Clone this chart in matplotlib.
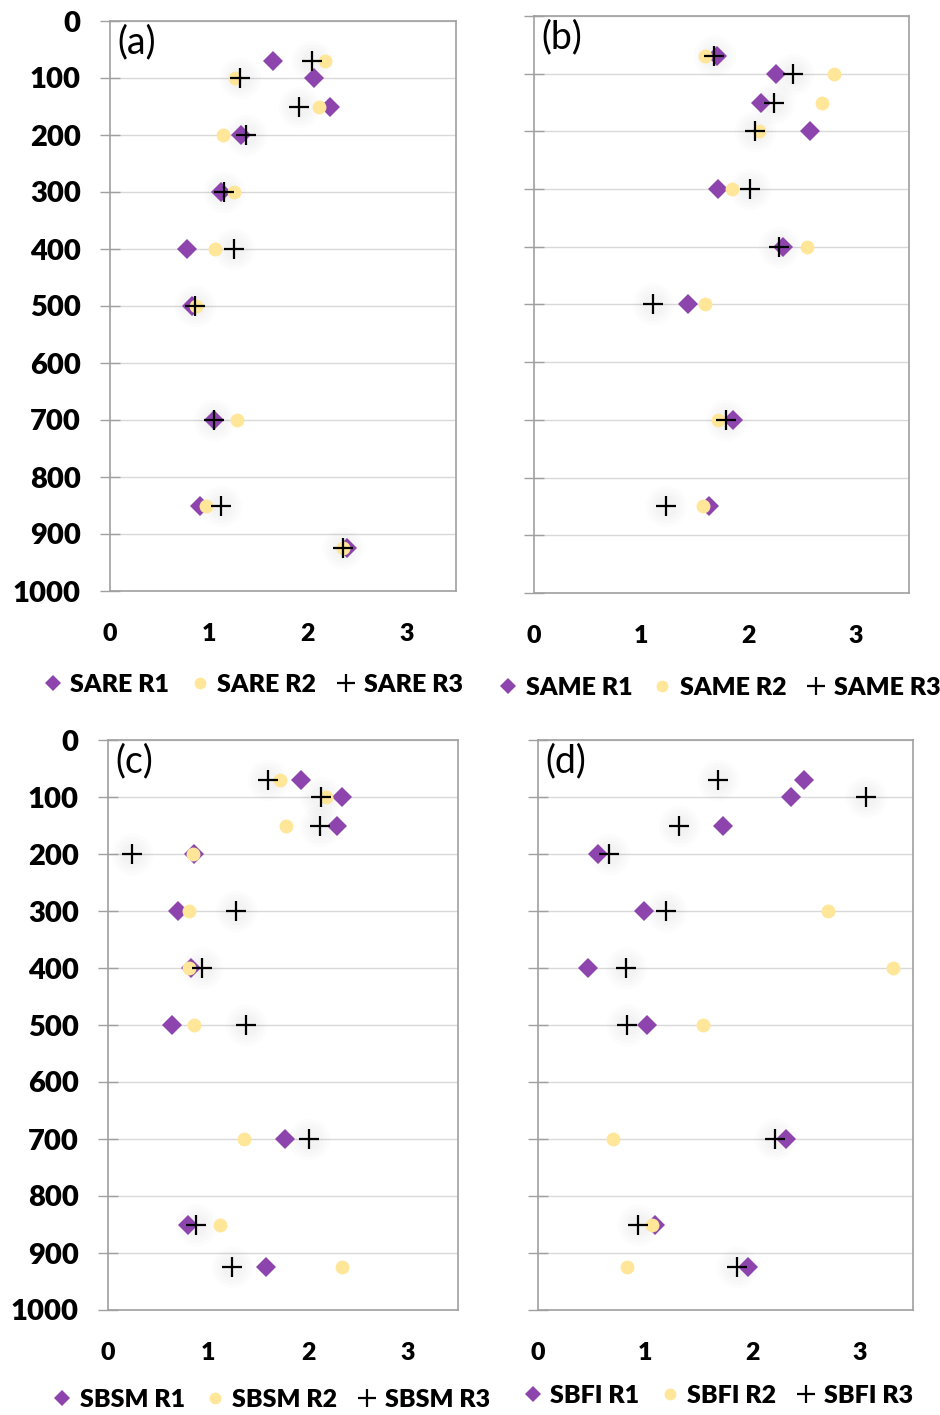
import numpy as np
import matplotlib
matplotlib.use('Agg')
import matplotlib.pyplot as plt

# depth (cm) and values per panel
depth = [70, 100, 150, 200, 300, 400, 500, 700, 850, 925]
depth_b = [70, 100, 150, 200, 300, 400, 500, 700, 850]

sare_r1 = [1.65, 2.06, 2.23, 1.33, 1.12, 0.78, 0.83, 1.05, 0.91, 2.40]
sare_r2 = [2.17, 1.26, 2.11, 1.14, 1.25, 1.06, 0.87, 1.28, 0.97, 2.36]
sare_r3 = [2.04, 1.32, 1.91, 1.38, 1.15, 1.25, 0.86, 1.05, 1.12, 2.36]

same_r1 = [1.71, 2.26, 2.12, 2.58, 1.72, 2.32, 1.44, 1.86, 1.63]
same_r2 = [1.60, 2.80, 2.69, 2.10, 1.85, 2.55, 1.60, 1.72, 1.58]
same_r3 = [1.68, 2.42, 2.24, 2.06, 2.02, 2.29, 1.11, 1.79, 1.23]

sbsm_r1 = [1.93, 2.34, 2.29, 0.86, 0.70, 0.83, 0.64, 1.77, 0.80, 1.58]
sbsm_r2 = [1.72, 2.18, 1.78, 0.85, 0.81, 0.81, 0.86, 1.36, 1.12, 2.34]
sbsm_r3 = [1.60, 2.13, 2.12, 0.24, 1.28, 0.94, 1.38, 2.01, 0.88, 1.24]

sbfi_r1 = [2.48, 2.36, 1.73, 0.56, 0.99, 0.47, 1.02, 2.31, 1.09, 1.96]
sbfi_r2 = [np.nan, np.nan, np.nan, np.nan, 2.71, 3.31, 1.54, 0.70, 1.06, 0.83]
sbfi_r3 = [1.68, 3.06, 1.32, 0.66, 1.19, 0.82, 0.83, 2.21, 0.93, 1.86]

yticks = list(range(0, 1001, 100))
xticks = [0, 1, 2, 3]

purple = '#8E44AD'
yellow = '#FFE699'
FONT = 'Lato'
WEIGHT = 'heavy'

fig = plt.figure(figsize=(9.4, 14.15), dpi=100)

panels = [
    # name, label, y, r1, r2, r3, axes rect, legend anchor, show ylabels
    ('SARE', '(a)', depth, sare_r1, sare_r2, sare_r3,
     [110/940, 1-591/1415, 346/940, 570/1415], (43/940, 1-685/1415), True),
    ('SAME', '(b)', depth_b, same_r1, same_r2, same_r3,
     [534/940, 1-593/1415, 375/940, 577/1415], (498/940, 1-688/1415), False),
    ('SBSM', '(c)', depth, sbsm_r1, sbsm_r2, sbsm_r3,
     [108/940, 1-1310/1415, 350/940, 570/1415], (52/940, 1-1400/1415), True),
    ('SBFI', '(d)', depth, sbfi_r1, sbfi_r2, sbfi_r3,
     [538/940, 1-1310/1415, 375/940, 570/1415], (523/940, 1-1396/1415), False),
]

for name, lab, y, r1, r2, r3, rect, leg_xy, ylab in panels:
    ax = fig.add_axes(rect)
    # soft glow behind the crosses
    for ms in (30, 25, 20, 15):
        ax.plot(r3, y, 'o', ms=ms, color='black', alpha=0.012, mew=0, zorder=2)
    h1, = ax.plot(r1, y, 'D', ms=10, color=purple, mew=0, ls='none', zorder=3,
                  label=name + ' R1')
    h2, = ax.plot(r2, y, 'o', ms=10, color=yellow, mew=0, ls='none', zorder=4,
                  label=name + ' R2')
    h3, = ax.plot(r3, y, '+', ms=15, color='black', mew=1.6, ls='none', zorder=5,
                  label=name + ' R3')

    ax.set_xlim(0, 3.5)
    ax.set_ylim(1000, 0)
    ax.set_yticks(yticks)
    ax.set_xticks(xticks)
    ax.grid(axis='y', color='#D9D9D9', lw=1)
    ax.set_axisbelow(True)
    for s in ax.spines.values():
        s.set_color('#A0A0A0')
        s.set_linewidth(1.2)
    ax.tick_params(axis='y', direction='inout', length=14, width=1,
                   color='#A0A0A0', pad=14, labelsize=21, labelleft=ylab)
    ax.tick_params(axis='x', length=0, pad=23, labelsize=18)
    for t in ax.get_yticklabels() + ax.get_xticklabels():
        t.set_fontfamily(FONT)
        t.set_fontweight(WEIGHT)
    ax.text(0.02, 0.995, lab, transform=ax.transAxes, ha='left', va='top',
            fontsize=27, family=FONT)

    fig.legend(handles=[h1, h2, h3], loc='center left', bbox_to_anchor=leg_xy,
               ncol=3, frameon=False, handlelength=0.8, handletextpad=0.3,
               columnspacing=0.8, markerscale=0.85,
               prop={'family': FONT, 'weight': WEIGHT, 'size': 18},
               borderaxespad=0, borderpad=0)

fig.savefig('out.png', dpi=100)
